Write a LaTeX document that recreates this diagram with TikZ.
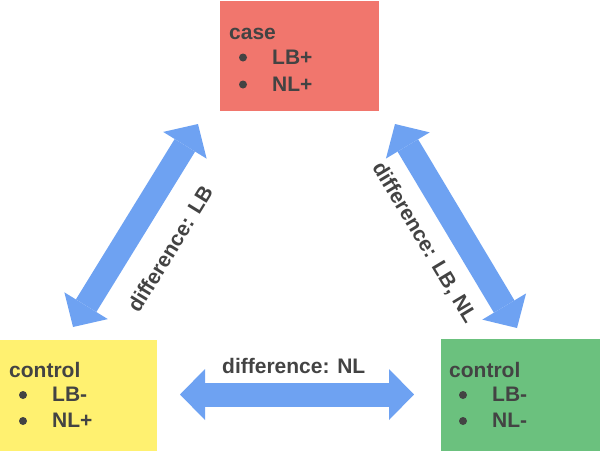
\documentclass[tikz,border=0pt]{standalone}
\usepackage{fontspec}
\setmainfont{Liberation Sans}
\usetikzlibrary{arrows.meta}
\definecolor{boxred}{HTML}{F1766D}
\definecolor{boxyellow}{HTML}{FFF170}
\definecolor{boxgreen}{HTML}{6BC17E}
\definecolor{arrowblue}{HTML}{6EA2F2}
\definecolor{txtgray}{HTML}{434343}
\tikzset{
  card/.style={draw=none, inner sep=0pt},
  txt/.style={anchor=base west, inner sep=0pt, text=txtgray, font=\fontsize{21}{25}\selectfont\bfseries},
  lbl/.style={inner sep=0pt, text=txtgray, font=\fontsize{21}{25}\selectfont\bfseries},
  dot/.style={circle, fill=txtgray, minimum size=8pt, inner sep=0pt},
  bigarrow/.style={draw=arrowblue, line width=24pt,
    {Triangle[length=25pt,width=51pt,line width=0pt]}-{Triangle[length=25pt,width=51pt,line width=0pt]}}
}
\begin{document}
\begin{tikzpicture}[x=1pt,y=-1pt]
\useasboundingbox (0,0) rectangle (600,451);
% boxes
\node[card, fill=boxred, minimum width=159pt, minimum height=110pt] (case) at (299.5,56) {};
\node[card, fill=boxyellow, minimum width=157pt, minimum height=111pt] (ctrlA) at (78.5,395.5) {};
\node[card, fill=boxgreen, minimum width=159pt, minimum height=112pt] (ctrlB) at (520.5,395) {};
% top box text
\node[txt] (t1) at (229,39) {case};
\node[dot] (tb1) at (243,57.5) {};
\node[txt] (t2) at (272,64) {LB+};
\node[dot] (tb2) at (243,84.5) {};
\node[txt] (t3) at (272,91) {NL+};
% left box text
\node[txt] (l1) at (9,377) {control};
\node[dot] (lb1) at (23,395) {};
\node[txt] (l2) at (52,401) {LB-};
\node[dot] (lb2) at (23,421) {};
\node[txt] (l3) at (52,427) {NL+};
% right box text
\node[txt] (r1) at (449,377) {control};
\node[dot] (rb1) at (463,395) {};
\node[txt] (r2) at (492,401) {LB-};
\node[dot] (rb2) at (463,421) {};
\node[txt] (r3) at (492,427) {NL-};
% arrow endpoints
\coordinate (hA) at (180,394.5);
\coordinate (hB) at (414,394.5);
\coordinate (lA) at (73,327);
\coordinate (lB) at (198,124);
\coordinate (rA) at (395,124);
\coordinate (rB) at (517,328);
\draw[bigarrow] (hA) -- (hB);
\draw[bigarrow] (lA) -- (lB);
\draw[bigarrow] (rA) -- (rB);
% labels
\node[txt] (hl) at (222,373) {difference: NL};
\node[lbl, rotate=58.4] (ll) at (170,249) {difference: LB};
\node[lbl, rotate=-59] (rl) at (424,243) {difference: LB, NL};
\end{tikzpicture}
\end{document}
